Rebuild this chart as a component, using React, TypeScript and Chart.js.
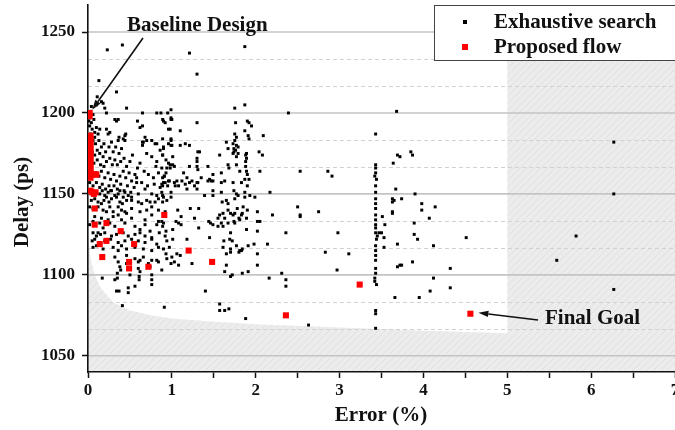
import React, { useEffect, useRef } from 'react';
import { Chart, registerables } from 'chart.js';

Chart.register(...registerables);

type Pt = [number, number];

// Axis ticks
const xTicks = [0, 1, 2, 3, 4, 5, 6, 7];
const yTicks = [1050, 1100, 1150, 1200, 1250];
const xMin = 0;
const xMax = 7;
const yMin = 1040;
const yMax = 1266.7;

// Infeasible region boundary (shaded area under this edge) and error limit
const edgeX = [0, 0.03, 0.08, 0.15, 0.3, 0.5, 0.75, 1.0, 1.5, 2.0, 3.0, 4.0, 5.0];
const edgeY = [1125, 1110, 1100, 1092, 1083, 1078, 1075, 1073, 1071, 1069.5, 1067.5, 1065.5, 1064];
const errorLimit = 5;

// Exhaustive search: x < 0.6, upper part
const searchNearZeroTop: Pt[] = [
  [0.04, 1204], [0.10, 1205], [0.18, 1206], [0.20, 1203], [0.22, 1200], [0.16, 1207], [0.11, 1210], [0.13, 1220],
  [0.23, 1239], [0.41, 1242], [0.34, 1213], [0.46, 1203], [0.02, 1197], [0.01, 1195], [0.04, 1194], [0.02, 1192],
  [0.32, 1196], [0.34, 1195], [0.36, 1196], [0.10, 1191], [0.14, 1190], [0.08, 1188], [0.12, 1187], [0.08, 1185],
  [0.22, 1190], [0.24, 1187], [0.26, 1188], [0.44, 1186], [0.36, 1183], [0.42, 1184], [0.03, 1201], [0.06, 1199],
  [0.07, 1196], [0.05, 1190], [0.03, 1187], [0.06, 1183], [0.04, 1180], [0.09, 1181], [0.13, 1183], [0.16, 1179],
  [0.19, 1181], [0.11, 1177], [0.05, 1176], [0.08, 1174], [0.14, 1175], [0.18, 1173], [0.21, 1176], [0.25, 1179],
  [0.28, 1182], [0.30, 1176], [0.33, 1179], [0.37, 1175], [0.40, 1178], [0.03, 1171], [0.07, 1169], [0.11, 1171],
  [0.15, 1168], [0.19, 1167], [0.22, 1170], [0.26, 1172], [0.29, 1168], [0.32, 1171], [0.35, 1168], [0.39, 1170],
  [0.43, 1172], [0.46, 1167], [0.50, 1170], [0.53, 1174], [0.04, 1165], [0.09, 1163], [0.13, 1161], [0.16, 1164],
  [0.20, 1160], [0.24, 1163], [0.27, 1159], [0.31, 1162], [0.34, 1158], [0.38, 1161], [0.42, 1164], [0.45, 1160],
  [0.49, 1163], [0.52, 1158], [0.56, 1162], [0.59, 1166], [0.02, 1157], [0.06, 1155], [0.10, 1157], [0.14, 1154],
  [0.17, 1156], [0.21, 1153], [0.25, 1155], [0.28, 1152], [0.31, 1155], [0.35, 1153], [0.39, 1156], [0.43, 1152],
  [0.47, 1155], [0.51, 1151], [0.55, 1154], [0.58, 1157], [0.37, 1185], [0.44, 1183], [0.45, 1187],
];

// Exhaustive search: x < 1, lower part
const searchNearZeroLow: Pt[] = [
  [0.10, 1151], [0.14, 1150], [0.17, 1152], [0.20, 1149], [0.24, 1151], [0.27, 1152], [0.32, 1149], [0.36, 1150],
  [0.38, 1152], [0.42, 1148], [0.44, 1151], [0.48, 1149], [0.52, 1148], [0.60, 1150], [0.68, 1153], [0.76, 1150],
  [0.82, 1149], [0.88, 1151],
  [0.04, 1146], [0.08, 1147], [0.12, 1145], [0.16, 1144], [0.19, 1146], [0.22, 1148], [0.25, 1145], [0.28, 1147],
  [0.34, 1148], [0.38, 1145], [0.41, 1144], [0.46, 1146], [0.52, 1146], [0.60, 1145], [0.64, 1144], [0.70, 1146],
  [0.74, 1145], [0.80, 1145], [0.84, 1147], [0.90, 1148], [0.94, 1146],
  [0.02, 1142], [0.06, 1141], [0.12, 1142], [0.18, 1140], [0.22, 1139], [0.26, 1142], [0.30, 1139], [0.36, 1142],
  [0.40, 1140], [0.44, 1139], [0.52, 1141], [0.62, 1139], [0.70, 1140], [0.76, 1142], [0.84, 1140], [0.92, 1139],
  [0.08, 1136], [0.16, 1135], [0.24, 1134], [0.30, 1136], [0.36, 1137], [0.40, 1134], [0.46, 1138], [0.52, 1135],
  [0.68, 1134], [0.76, 1137], [0.84, 1133],
  [0.02, 1131], [0.06, 1133], [0.14, 1132], [0.18, 1129], [0.26, 1132], [0.32, 1130], [0.44, 1132], [0.56, 1130],
  [0.62, 1128], [0.68, 1131], [0.74, 1127], [0.82, 1131], [0.90, 1132],
  [0.06, 1126], [0.10, 1124], [0.15, 1125], [0.20, 1126], [0.28, 1124], [0.34, 1125], [0.42, 1126], [0.48, 1124],
  [0.56, 1125], [0.62, 1126], [0.68, 1124], [0.76, 1123], [0.85, 1126], [0.92, 1124],
  [0.05, 1121], [0.08, 1122], [0.14, 1120], [0.20, 1121], [0.27, 1122], [0.36, 1120], [0.44, 1121], [0.52, 1122],
  [0.60, 1121], [0.68, 1120], [0.76, 1122], [0.82, 1119], [0.94, 1121],
  [0.06, 1117], [0.10, 1118], [0.18, 1116], [0.30, 1117], [0.36, 1115], [0.40, 1118], [0.46, 1116], [0.56, 1117],
  [0.66, 1116], [0.76, 1115], [0.84, 1117], [0.90, 1116],
  [0.32, 1111], [0.46, 1112], [0.56, 1110], [0.62, 1109], [0.66, 1111], [0.82, 1109], [0.94, 1110],
  [0.36, 1108], [0.46, 1107], [0.60, 1108], [0.72, 1107], [0.76, 1109], [0.84, 1108],
  [0.38, 1105], [0.39, 1103], [0.60, 1104], [0.74, 1105], [0.88, 1103],
  [0.35, 1101], [0.50, 1100], [0.62, 1102], [0.76, 1100],
  [0.17, 1098], [0.32, 1097], [0.35, 1098], [0.48, 1092], [0.48, 1089], [0.34, 1090], [0.37, 1090], [0.56, 1093],
  [0.61, 1099], [0.61, 1097], [0.76, 1097], [0.76, 1094], [0.41, 1081], [0.91, 1080], [0.12, 1126],
];

// Exhaustive search: 0.6 <= x <= 1.05, upper part
const searchMidTop: Pt[] = [
  [0.59, 1195], [0.90, 1195], [0.99, 1196], [0.62, 1191], [0.65, 1192], [0.96, 1190], [0.65, 1182], [0.65, 1180],
  [0.82, 1181], [0.99, 1184], [1.00, 1180], [0.68, 1185], [0.66, 1182], [0.70, 1183], [0.76, 1183], [0.80, 1181],
  [0.90, 1179], [0.96, 1181], [0.86, 1177], [0.89, 1174], [0.70, 1175], [0.76, 1173], [0.82, 1170], [0.81, 1167],
  [0.88, 1166], [0.93, 1171], [0.98, 1166], [1.03, 1167], [0.62, 1169], [0.67, 1164], [0.72, 1162], [0.78, 1160],
  [0.84, 1163], [0.91, 1161], [0.97, 1158], [0.58, 1160], [0.64, 1157], [0.71, 1155], [0.79, 1156], [0.86, 1154],
  [0.95, 1155], [0.95, 1200], [0.99, 1202], [0.89, 1196], [0.92, 1194], [1.00, 1196], [0.99, 1197], [0.98, 1190],
  [0.87, 1200], [0.65, 1200], [0.82, 1200],
];

// Exhaustive search: 1 <= x <= 2.2
const searchOneToTwo: Pt[] = [
  [1.10, 1189], [1.30, 1194], [0.89, 1184], [0.90, 1178], [0.89, 1174], [0.99, 1183], [0.99, 1180], [1.10, 1180],
  [1.16, 1181], [1.21, 1180], [1.01, 1173], [1.33, 1176], [1.30, 1172], [1.30, 1170], [1.30, 1167], [1.31, 1165],
  [1.21, 1167], [1.43, 1167], [1.49, 1162], [1.45, 1159], [1.49, 1158], [1.21, 1237], [1.30, 1224],
  [0.96, 1169], [0.98, 1168], [1.01, 1168], [0.94, 1166], [0.93, 1163], [0.91, 1161], [0.89, 1160], [0.90, 1157],
  [0.88, 1156], [0.92, 1157], [0.96, 1158], [1.03, 1157], [1.06, 1158], [1.04, 1155], [1.08, 1155],
  [1.14, 1163], [1.18, 1160], [1.24, 1158], [1.35, 1160], [1.31, 1157], [1.27, 1155], [1.16, 1156], [1.12, 1158],
  [0.89, 1155], [0.99, 1151], [0.99, 1148], [1.18, 1153], [1.39, 1149], [1.49, 1152], [1.49, 1149], [1.59, 1151],
  [1.60, 1145], [1.67, 1144], [1.74, 1152], [1.77, 1150], [1.75, 1147], [1.79, 1149], [1.87, 1151], [1.87, 1148],
  [1.93, 1149], [1.99, 1148], [1.90, 1155], [0.89, 1149], [0.89, 1145],
  [1.07, 1140], [1.22, 1141], [1.32, 1141], [1.65, 1146], [1.67, 1140], [1.70, 1138], [1.78, 1141], [1.85, 1142],
  [1.90, 1140], [2.02, 1139],
  [1.11, 1136], [1.27, 1135], [1.57, 1137], [1.61, 1138], [1.55, 1135], [1.63, 1135], [1.73, 1137], [1.75, 1138],
  [1.80, 1135], [1.83, 1137], [1.84, 1138],
  [0.88, 1133], [0.89, 1130], [1.05, 1133], [1.08, 1132], [1.11, 1131], [1.44, 1133], [1.46, 1132], [1.49, 1131],
  [1.55, 1130], [1.59, 1132], [1.67, 1132], [1.74, 1133], [1.75, 1132], [1.81, 1134], [1.89, 1135], [2.05, 1133],
  [0.93, 1127], [1.01, 1128], [1.32, 1129], [1.61, 1130], [1.70, 1126], [1.89, 1128],
  [1.01, 1122], [1.18, 1122], [1.45, 1123], [1.62, 1121], [1.69, 1122], [1.72, 1121],
  [0.97, 1117], [1.61, 1117], [1.70, 1116], [1.77, 1118], [1.84, 1116], [1.81, 1115], [1.91, 1118], [1.98, 1119],
  [0.93, 1113], [1.00, 1111], [1.06, 1113], [1.10, 1112], [1.70, 1114], [1.80, 1114], [1.65, 1113], [1.83, 1115],
  [0.99, 1107], [1.03, 1108], [1.08, 1106], [1.24, 1107], [1.65, 1106],
  [1.63, 1102], [1.70, 1099], [1.72, 1100], [1.84, 1101], [1.91, 1102],
  [1.40, 1090], [1.57, 1082], [1.57, 1078], [1.63, 1078], [1.68, 1079], [1.88, 1073],
  [1.75, 1203], [1.87, 1205], [1.87, 1241], [1.76, 1194], [1.90, 1195], [1.92, 1194], [1.95, 1192], [1.87, 1189],
  [1.92, 1184], [1.65, 1182], [1.75, 1183], [1.77, 1180], [1.74, 1178], [1.76, 1177], [1.79, 1179], [1.57, 1174],
  [1.73, 1175], [1.79, 1175], [1.89, 1175], [1.67, 1178], [1.75, 1187], [1.77, 1185], [1.91, 1186], [1.73, 1181],
  [1.31, 1176], [1.74, 1176], [1.77, 1173], [1.88, 1174], [1.89, 1172],
  [1.59, 1163], [1.67, 1168], [1.68, 1166], [1.77, 1168], [1.81, 1164], [1.88, 1170], [1.88, 1167], [1.89, 1164],
  [1.90, 1162], [1.92, 1159], [1.87, 1159], [1.83, 1157], [1.73, 1157], [1.59, 1157], [1.63, 1158], [1.47, 1158],
  [1.43, 1158], [1.21, 1157], [1.30, 1157], [1.30, 1153],
  [2.04, 1176], [2.08, 1174], [2.09, 1186], [2.02, 1133], [2.02, 1127], [2.02, 1106], [2.14, 1119], [2.17, 1151],
  [2.20, 1137], [2.16, 1098], [2.05, 1164], [2.02, 1113],
];

// Exhaustive search: 2.3 <= x <= 3.4
const searchTwoToThree: Pt[] = [
  [2.39, 1200], [2.53, 1164], [2.86, 1164], [2.91, 1161], [2.50, 1142], [2.53, 1137], [2.53, 1136], [2.75, 1139],
  [2.36, 1126], [2.98, 1126], [2.83, 1114], [3.11, 1113], [2.97, 1103], [2.31, 1101], [2.36, 1097], [2.36, 1093],
  [2.63, 1069],
];

// Exhaustive search: vertical column near 3.43 %
const searchColumn: Pt[] = [
  [3.43, 1187], [3.43, 1168], [3.43, 1166], [3.42, 1161], [3.44, 1159], [3.43, 1151], [3.43, 1147], [3.43, 1141],
  [3.43, 1137], [3.43, 1134], [3.43, 1131], [3.43, 1126], [3.47, 1126], [3.45, 1124], [3.44, 1122], [3.43, 1112],
  [3.43, 1109], [3.43, 1101], [3.42, 1098], [3.42, 1096], [3.44, 1094], [3.43, 1078], [3.43, 1076], [3.43, 1067],
  [3.43, 1144], [3.43, 1155], [3.43, 1163], [3.43, 1118], [3.43, 1115], [3.43, 1104], [3.43, 1129],
];

// Exhaustive search: 3.5 <= x <= 6.3
const searchFar: Pt[] = [
  [3.68, 1201], [3.85, 1176], [3.87, 1174], [3.69, 1174], [3.72, 1173], [3.64, 1169], [3.67, 1153], [3.90, 1150],
  [3.63, 1147], [3.65, 1146], [3.63, 1145], [3.74, 1147], [3.98, 1144], [4.14, 1142], [3.63, 1139], [3.63, 1138],
  [3.98, 1140], [3.51, 1136], [4.07, 1135], [3.54, 1131], [3.89, 1132], [3.50, 1126], [3.53, 1123], [3.89, 1125],
  [3.93, 1122], [4.51, 1123], [3.69, 1119], [3.53, 1117], [4.12, 1118], [3.74, 1106], [3.72, 1106], [3.69, 1105],
  [3.87, 1108], [4.32, 1104], [4.12, 1098], [4.32, 1092], [4.08, 1090], [3.66, 1086], [3.95, 1086],
  [5.82, 1124], [5.59, 1109], [6.27, 1091], [6.27, 1182], [6.27, 1150],
];

// Proposed flow
const proposedFlow: Pt[] = [
  [0.02, 1200], [0.02, 1198], [0.03, 1186], [0.03, 1184], [0.03, 1182], [0.03, 1180], [0.03, 1178], [0.03, 1176],
  [0.03, 1174], [0.03, 1172], [0.03, 1170], [0.03, 1168], [0.03, 1166], [0.03, 1164], [0.03, 1162], [0.03, 1160],
  [0.05, 1162], [0.07, 1162], [0.09, 1162], [0.10, 1162], [0.03, 1152], [0.05, 1151], [0.07, 1150], [0.09, 1151],
  [0.08, 1141], [0.08, 1131], [0.22, 1132], [0.39, 1127], [0.14, 1119], [0.22, 1121], [0.55, 1119], [0.17, 1111],
  [0.49, 1108], [0.49, 1104], [0.72, 1105], [0.91, 1137], [1.20, 1115], [1.48, 1108], [2.36, 1075], [3.24, 1094],
  [4.56, 1076],
];

const exhaustiveSearch: Pt[] = [
  ...searchNearZeroTop, ...searchNearZeroLow, ...searchMidTop, ...searchOneToTwo,
  ...searchTwoToThree, ...searchColumn, ...searchFar,
];

const FONT = '"Liberation Serif", "Times New Roman", serif';

const backgroundPlugin = {
  id: 'backgroundShading',
  beforeDraw(chart: any) {
    const { ctx, chartArea: ca, scales } = chart;
    const x = scales.x;
    const y = scales.y;
    ctx.save();
    ctx.beginPath();
    ctx.rect(ca.left, ca.top, ca.right - ca.left + 40, ca.bottom - ca.top);
    ctx.clip();

    // shaded region
    ctx.beginPath();
    ctx.moveTo(x.getPixelForValue(edgeX[0]), ca.bottom);
    for (let i = 0; i < edgeX.length; i++) {
      ctx.lineTo(x.getPixelForValue(edgeX[i]), y.getPixelForValue(edgeY[i]));
    }
    ctx.lineTo(x.getPixelForValue(errorLimit), ca.top);
    ctx.lineTo(ca.right + 40, ca.top);
    ctx.lineTo(ca.right + 40, ca.bottom);
    ctx.closePath();
    ctx.fillStyle = '#ececec';
    ctx.fill();
    ctx.save();
    ctx.clip();
    ctx.strokeStyle = '#e0e0e0';
    ctx.lineWidth = 1;
    const h = ca.bottom - ca.top;
    ctx.beginPath();
    for (let px = ca.left - h; px < ca.right + 60; px += 7) {
      ctx.moveTo(px, ca.bottom);
      ctx.lineTo(px + h, ca.top);
    }
    ctx.stroke();
    ctx.restore();

    // minor dashed grid lines (thirds between major ticks)
    const step = (yTicks[1] - yTicks[0]) / 3;
    const minor: number[] = [];
    for (let v = yTicks[0] - 2 * step; v < yMax - 0.5; v += step) {
      if (v <= yMin) continue;
      const isMajor = yTicks.some((t) => Math.abs(t - v) < 0.01);
      if (!isMajor) minor.push(v);
    }
    ctx.setLineDash([4, 3]);
    ctx.strokeStyle = '#d2d2d2';
    ctx.lineWidth = 1;
    for (const v of minor) {
      const py = Math.round(y.getPixelForValue(v)) + 0.5;
      ctx.beginPath();
      ctx.moveTo(ca.left, py);
      ctx.lineTo(ca.right + 40, py);
      ctx.stroke();
    }
    ctx.setLineDash([]);
    for (const v of yTicks) {
      const py = y.getPixelForValue(v);
      ctx.beginPath();
      ctx.strokeStyle = '#c4c4c4';
      ctx.lineWidth = 1.6;
      ctx.moveTo(ca.left, py);
      ctx.lineTo(ca.right + 40, py);
      ctx.stroke();
    }
    ctx.restore();
  },
};

function arrow(ctx: CanvasRenderingContext2D, x0: number, y0: number, x1: number, y1: number) {
  const ang = Math.atan2(y1 - y0, x1 - x0);
  const len = 10;
  const hw = 3.2;
  const bx = x1 - len * Math.cos(ang);
  const by = y1 - len * Math.sin(ang);
  ctx.beginPath();
  ctx.moveTo(x0, y0);
  ctx.lineTo(bx, by);
  ctx.lineWidth = 1.6;
  ctx.strokeStyle = '#111';
  ctx.stroke();
  ctx.beginPath();
  ctx.moveTo(x1, y1);
  ctx.lineTo(bx - hw * Math.sin(ang), by + hw * Math.cos(ang));
  ctx.lineTo(bx + hw * Math.sin(ang), by - hw * Math.cos(ang));
  ctx.closePath();
  ctx.fillStyle = '#111';
  ctx.fill();
}

const overlayPlugin = {
  id: 'overlay',
  afterDraw(chart: any) {
    const { ctx, scales } = chart;
    const x = scales.x;
    const y = scales.y;
    ctx.save();
    ctx.fillStyle = '#111';
    ctx.font = `bold 21px ${FONT}`;
    ctx.textBaseline = 'alphabetic';

    // axis titles
    ctx.textAlign = 'center';
    ctx.fillText('Error (%)', 381, 421);
    ctx.save();
    ctx.translate(28, 202);
    ctx.rotate(-Math.PI / 2);
    ctx.fillText('Delay (ps)', 0, 0);
    ctx.restore();

    // annotations
    ctx.textAlign = 'left';
    ctx.fillText('Baseline Design', 127, 31);
    arrow(ctx, 143, 38, x.getPixelForValue(0.05), y.getPixelForValue(1202));
    ctx.fillStyle = '#111';
    ctx.fillText('Final Goal', 545, 324);
    arrow(ctx, 538, 320, x.getPixelForValue(4.56) + 8, y.getPixelForValue(1076) - 1);

    // legend
    const ds = chart.data.datasets;
    ctx.fillStyle = '#fff';
    ctx.fillRect(434.5, 5.5, 300, 55);
    ctx.strokeStyle = '#444';
    ctx.lineWidth = 1;
    ctx.strokeRect(434.5, 5.5, 300, 55);
    ctx.fillStyle = '#000';
    ctx.fillRect(463, 20, 4, 4);
    ctx.fillStyle = '#ff0000';
    ctx.fillRect(462, 44, 6, 6);
    ctx.fillStyle = '#111';
    ctx.font = `bold 21px ${FONT}`;
    ctx.fillText(ds[1].label, 494, 28);
    ctx.fillText(ds[0].label, 494, 53);
    ctx.restore();
  },
};

export default function App() {
  const canvasRef = useRef<HTMLCanvasElement | null>(null);

  useEffect(() => {
    document.body.style.margin = '0';
    const canvas = canvasRef.current;
    if (!canvas) return;
    const chart = new Chart(canvas, {
      type: 'scatter',
      data: {
        datasets: [
          {
            label: 'Proposed flow',
            data: proposedFlow.map(([a, b]) => ({ x: a, y: b })),
            backgroundColor: '#ff0000',
            borderWidth: 0,
            pointStyle: 'rect',
            pointRadius: 4.3,
            order: 0,
          },
          {
            label: 'Exhaustive search',
            data: exhaustiveSearch.map(([a, b]) => ({ x: a, y: b })),
            backgroundColor: '#000',
            borderWidth: 0,
            pointStyle: 'rect',
            pointRadius: 2.1,
            order: 1,
          },
        ],
      },
      options: {
        animation: false,
        responsive: false,
        devicePixelRatio: 1,
        layout: { padding: { top: 5, right: 25, bottom: 0, left: 0 } },
        plugins: { legend: { display: false }, tooltip: { enabled: false } },
        scales: {
          x: {
            type: 'linear',
            min: xMin,
            max: xMax,
            afterBuildTicks: (s: any) => {
              const t: any[] = [];
              xTicks.forEach((v, i) => {
                t.push({ value: v });
                if (i < xTicks.length - 1) t.push({ value: v + 0.5 });
              });
              s.ticks = t;
            },
            afterFit: (s: any) => {
              s.height = 58;
              s.paddingLeft = 0;
              s.paddingRight = 0;
            },
            ticks: {
              autoSkip: false,
              maxRotation: 0,
              padding: 2,
              color: '#111',
              font: { family: FONT, weight: 'bold', size: 17 },
              callback: (v: any) => (Number.isInteger(Number(v)) ? String(v) : ''),
            },
            grid: { drawOnChartArea: false, drawTicks: true, tickLength: 6, tickColor: '#111', tickWidth: 1.5 },
            border: { display: true, color: '#111', width: 1.6 },
          },
          y: {
            type: 'linear',
            min: yMin,
            max: yMax,
            afterBuildTicks: (s: any) => {
              s.ticks = yTicks.map((v) => ({ value: v }));
            },
            afterFit: (s: any) => {
              s.width = 88;
              s.paddingTop = 0;
              s.paddingBottom = 0;
            },
            ticks: {
              autoSkip: false,
              padding: 7,
              color: '#111',
              font: { family: FONT, weight: 'bold', size: 17 },
              callback: (v: any) => String(v),
            },
            grid: { drawOnChartArea: false, drawTicks: true, tickLength: 6, tickColor: '#111', tickWidth: 1.5 },
            border: { display: true, color: '#111', width: 1.6 },
          },
        },
      },
      plugins: [backgroundPlugin, overlayPlugin],
    } as any);
    return () => chart.destroy();
  }, []);

  return (
    <div style={{ position: 'fixed', left: 0, top: 0, width: 675, height: 430, overflow: 'hidden', background: '#fff' }}>
      <canvas ref={canvasRef} width={700} height={430} style={{ display: 'block', width: 700, height: 430 }} />
    </div>
  );
}
